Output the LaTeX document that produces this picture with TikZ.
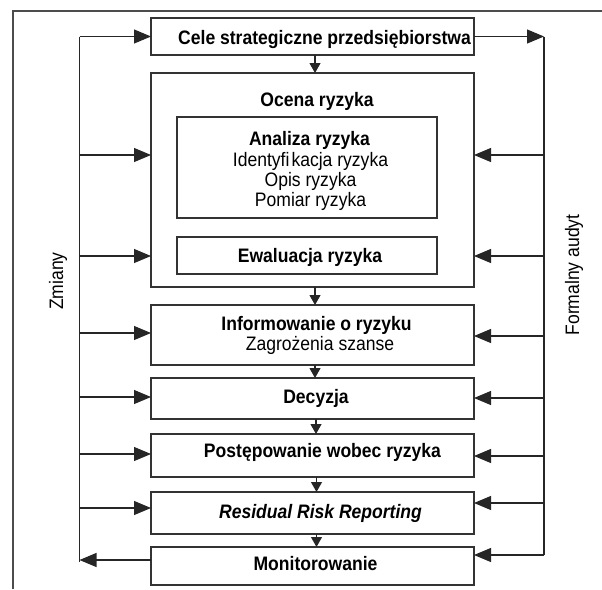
\documentclass[tikz,border=0pt]{standalone}
\usepackage{fontspec}
\setmainfont{Liberation Sans}[FakeStretch=0.9]
\usetikzlibrary{arrows.meta}
\begin{document}
\begin{tikzpicture}[x=1pt,y=-1pt,
  box/.style={draw=black!80, line width=1.2pt, minimum width=323pt, inner sep=0pt, outer sep=0pt},
  lbl/.style={anchor=base, inner sep=0pt, font=\fontsize{19.5}{20}\selectfont},
  bl/.style={anchor=base, inner sep=0pt, font=\fontsize{19.5}{20}\selectfont\bfseries},
  bil/.style={anchor=base, inner sep=0pt, font=\fontsize{19.5}{20}\selectfont\bfseries\itshape},
  link/.style={line width=1.1pt, draw=black!85},
  sidearrow/.style={link, -{Triangle[length=17pt,width=14pt]}},
  downarrow/.style={link, -{Triangle[length=10pt,width=11pt]}},
  frame/.style={line width=1.5pt, draw=black!70}
]
\useasboundingbox (0,0) rectangle (602,589);
\draw[frame] (602,11) -- (13,11) -- (13,589);

\node[box, minimum height=37pt] (cele) at (312.5,36.5) {};
\node[bl] (celet) at (324.5,44) {Cele strategiczne przedsiębiorstwa};
\node[box, minimum height=214pt] (ocena) at (312.5,180) {};
\node[bl] (ocenat) at (317,106) {Ocena ryzyka};
\node[box, minimum width=260pt, minimum height=101pt] (analiza) at (307,167.5) {};
\node[bl] (analizat) at (309.5,145) {Analiza ryzyka};
\node[lbl] (ident) at (310.5,166.5) {Identyfi\kern2pt kacja ryzyka};
\node[lbl] (opis) at (310.5,186) {Opis ryzyka};
\node[lbl] (pomiar) at (310.5,206) {Pomiar ryzyka};
\node[box, minimum width=260pt, minimum height=37pt] (ewal) at (307,255.5) {};
\node[bl] (ewalt) at (310,262) {Ewaluacja ryzyka};
\node[box, minimum height=60pt] (inform) at (312.5,335) {};
\node[bl] (informt) at (316.5,330) {Informowanie o ryzyku};
\node[lbl] (zagr) at (320,350) {Zagrożenia szanse};
\node[box, minimum height=41pt] (decyzja) at (312.5,398.5) {};
\node[bl] (decyzjat) at (316,403) {Decyzja};
\node[box, minimum height=43pt] (post) at (312.5,455.5) {};
\node[bl] (postt) at (322.5,457) {Postępowanie wobec ryzyka};
\node[box, minimum height=42pt] (resid) at (312.5,513) {};
\node[bil] (residt) at (320.5,518) {Residual Risk Reporting};
\node[box, minimum height=38pt] (monit) at (312.5,566) {};
\node[bl] (monitt) at (315.5,570) {Monitorowanie};

\node[lbl, rotate=90] (zmiany) at (63,281) {Zmiany};
\node[lbl, rotate=90] (audyt) at (579,275) {Formalny audyt};

\coordinate (ltop) at (79.5,36.5);
\coordinate (lbot) at (79.5,562);
\coordinate (rtop) at (544,36.5);
\coordinate (rbot) at (544,555);
\coordinate (l1) at (79.5,155);
\coordinate (l2) at (79.5,256);
\coordinate (l3) at (79.5,333);
\coordinate (l4) at (79.5,397);
\coordinate (l5) at (79.5,454);
\coordinate (l6) at (79.5,508);
\coordinate (l7) at (79.5,560);
\coordinate (r1) at (544,155);
\coordinate (r2) at (544,256);
\coordinate (r3) at (544,336);
\coordinate (r4) at (544,398);
\coordinate (r5) at (544,456);
\coordinate (r6) at (544,503);

\draw[link] (ltop) -- (lbot);
\draw[sidearrow] (ltop) -- (cele.west);
\foreach \c/\n in {l1/ocena, l2/ocena, l3/inform, l4/decyzja, l5/post, l6/resid}
  \draw[sidearrow] (\c) -- (\c -| \n.west);
\draw[sidearrow] (l7 -| monit.west) -- (l7);

\draw[link] (rtop) -- (rbot);
\draw[sidearrow] (cele.east) -- (rtop);
\foreach \c/\n in {r1/ocena, r2/ocena, r3/inform, r4/decyzja, r5/post, r6/resid}
  \draw[sidearrow] (\c) -- (\c -| \n.east);
\draw[sidearrow] (rbot) -- (rbot -| monit.east);

\draw[downarrow] ([xshift=2.5pt]cele.south) -- ([xshift=2.5pt]ocena.north);
\draw[downarrow] ([xshift=2.5pt]ocena.south) -- ([xshift=2.5pt]inform.north);
\draw[downarrow] ([xshift=2.5pt]inform.south) -- ([xshift=2.5pt]decyzja.north);
\draw[downarrow] ([xshift=3.5pt]decyzja.south) -- ([xshift=3.5pt]post.north);
\draw[downarrow] ([xshift=4pt]post.south) -- ([xshift=4pt]resid.north);
\draw[downarrow] ([xshift=4pt]resid.south) -- ([xshift=4pt]monit.north);
\end{tikzpicture}
\end{document}
